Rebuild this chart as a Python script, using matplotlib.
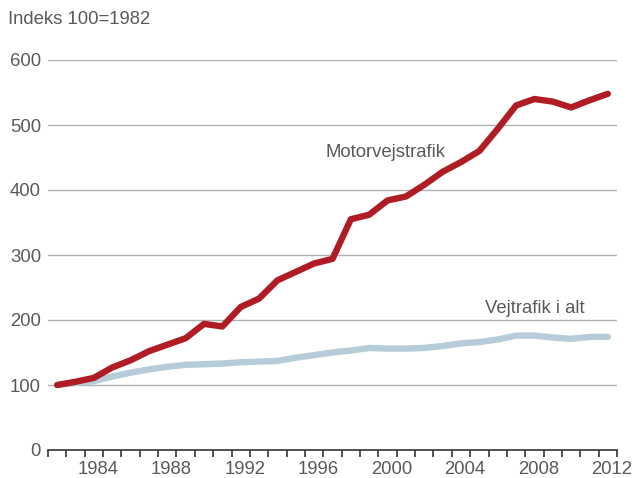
import numpy as np
import matplotlib
matplotlib.use("Agg")
import matplotlib.pyplot as plt
import matplotlib.transforms as mtransforms

plt.rcParams['font.family'] = ['Liberation Sans', 'DejaVu Sans']

years = list(range(1982, 2013))
motorvej = [100, 105, 111, 127, 138, 152, 162, 172, 194, 190,
            220, 233, 261, 274, 287, 294, 355, 362, 384, 390,
            408, 428, 443, 460, 494, 530, 540, 536, 527, 538, 548]
vejtrafik = [100, 103, 106, 113, 119, 124, 128, 131, 132, 133,
             135, 136, 137, 142, 146, 150, 153, 157, 156, 156,
             157, 160, 164, 166, 170, 176, 176, 173, 171, 174, 174]
yticks = [0, 100, 200, 300, 400, 500, 600]
xlabel_years = [1984, 1988, 1992, 1996, 2000, 2004, 2008, 2012]

txt = '#595959'
fs = 13.3
fig = plt.figure(figsize=(6.36, 4.78), dpi=100)
ax = fig.add_axes([48/636, 1-450/478, (617-48)/636, 390/478])

x = np.arange(len(years))
ax.plot(x, vejtrafik, color='#b6ccd8', lw=4.6, solid_capstyle='round', solid_joinstyle='round', zorder=3)
ax.plot(x, motorvej, color='#b01c24', lw=4.6, solid_capstyle='round', solid_joinstyle='round', zorder=4)

ax.set_xlim(-0.5, len(years) - 0.5)
ax.set_ylim(0, 600)

# gitterlinjer
for v in yticks[1:]:
    ax.axhline(v, color='#b0b0b0', lw=1.0, zorder=1)
ax.set_yticks(yticks)
ax.tick_params(axis='y', length=0, pad=5, labelsize=fs, labelcolor=txt)

# kategori-akse: streger mellem årene
ax.set_xticks(np.arange(len(years) + 1) - 0.5, minor=True)
ax.set_xticks([years.index(y) for y in xlabel_years])
ax.set_xticklabels([str(y) for y in xlabel_years])
ax.tick_params(axis='x', which='major', length=0, pad=8, labelsize=fs, labelcolor=txt)
ax.tick_params(axis='x', which='minor', length=5, width=1.2, color='#333333', direction='out')
off = mtransforms.ScaledTranslation(4/100, 0, fig.dpi_scale_trans)
for lab in ax.get_xticklabels():
    lab.set_transform(lab.get_transform() + off)

for s in ['left', 'right', 'top']:
    ax.spines[s].set_visible(False)
ax.spines['bottom'].set_color('#333333')
ax.spines['bottom'].set_linewidth(1.2)

fig.text(8/636, 1-20/478, 'Indeks 100=1982', fontsize=fs, color=txt, va='center', ha='left')
ax.text(14.6, 458, 'Motorvejstrafik', fontsize=fs, color=txt, va='center', ha='left')
ax.text(23.3, 218, 'Vejtrafik i alt', fontsize=fs, color=txt, va='center', ha='left')

fig.savefig('out.png', dpi=100)
